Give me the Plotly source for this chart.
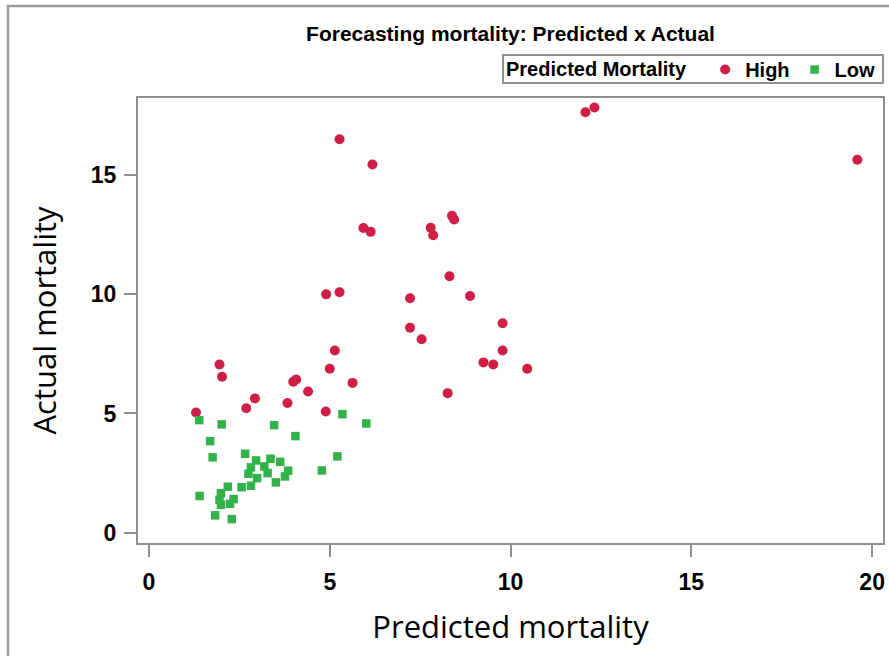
import plotly.graph_objects as go

# High predicted mortality group
high_pred = [1.30, 2.69, 2.93, 3.83, 4.89, 1.95, 2.02, 3.99, 4.07, 4.40, 5.00, 5.14, 5.63,
             4.90, 5.27, 5.27, 6.18, 12.07, 12.32, 5.93, 6.13, 7.79, 7.86, 8.38, 8.44,
             8.31, 7.22, 8.88, 9.78, 7.22, 7.54, 9.78, 9.25, 9.52, 10.46, 8.26, 19.59]
high_act = [5.04, 5.22, 5.63, 5.44, 5.08, 7.05, 6.54, 6.33, 6.42, 5.92, 6.87, 7.64, 6.28,
            9.99, 10.08, 16.49, 15.43, 17.62, 17.82, 12.77, 12.61, 12.78, 12.47, 13.28, 13.13,
            10.75, 9.83, 9.92, 8.78, 8.59, 8.11, 7.64, 7.14, 7.05, 6.87, 5.85, 15.63]

# Low predicted mortality group
low_pred = [1.39, 2.01, 3.46, 5.35, 6.01, 4.05, 1.69, 1.76, 2.66, 2.96, 3.36, 3.63, 2.82,
            3.19, 2.75, 3.28, 3.85, 3.76, 2.99, 2.82, 3.51, 5.21, 4.78, 2.18, 2.56, 1.99,
            1.95, 2.34, 1.99, 2.24, 1.40, 1.83, 2.29]
low_act = [4.72, 4.54, 4.51, 4.97, 4.58, 4.05, 3.84, 3.16, 3.31, 3.03, 3.10, 2.97, 2.74,
           2.78, 2.47, 2.50, 2.60, 2.36, 2.29, 1.97, 2.11, 3.20, 2.61, 1.93, 1.91, 1.66,
           1.38, 1.41, 1.17, 1.21, 1.54, 0.73, 0.57]

x_ticks = [0, 5, 10, 15, 20]
y_ticks = [0, 5, 10, 15]

RED = "#d01f47"
GREEN = "#33b24a"
GRAY = "#8f8f8f"
SANS = "Liberation Sans, Arial, sans-serif"
BOLD = dict(family=SANS, size=23, color="#000", weight="bold")
TITLE_FONT = dict(family="Open Sans, Noto Sans, sans-serif", size=31, color="#000")

# plot area in pixels: x 138..883, y 98..543
PW, PH = 745, 445


def px_x(p):
    return (p - 138) / PW


def px_y(p):
    return (543 - p) / PH


fig = go.Figure()
fig.add_trace(go.Scatter(x=high_pred, y=high_act, mode="markers", name="High",
                         marker=dict(symbol="circle", size=10, color=RED)))
fig.add_trace(go.Scatter(x=low_pred, y=low_act, mode="markers", name="Low",
                         marker=dict(symbol="square", size=8.5, color=GREEN)))

fig.update_layout(
    width=889, height=656,
    margin=dict(l=138, r=6, t=98, b=113, autoexpand=False),
    paper_bgcolor="white", plot_bgcolor="white",
    title=dict(text="Forecasting mortality: Predicted x Actual",
               font=dict(family=SANS, size=21, color="#000", weight="bold"),
               x=0.5, xref="paper", xanchor="center", y=1 - 34 / 656, yref="container", yanchor="middle"),
    showlegend=True,
    legend=dict(orientation="h", x=px_x(881), xanchor="right", y=px_y(50), yanchor="top",
                borderwidth=0, bgcolor="rgba(0,0,0,0)",
                title=dict(text="Predicted Mortality  ",
                           font=dict(family=SANS, size=20, color="#000", weight="bold")),
                font=dict(family=SANS, size=20, color="#000", weight="bold"),
                itemwidth=30, tracegroupgap=0),
    xaxis=dict(range=[-0.304, 20.30], tickvals=x_ticks, ticktext=[str(v) for v in x_ticks],
               showgrid=False, zeroline=False, showline=True, mirror=True,
               linecolor=GRAY, linewidth=2, ticks="outside", ticklen=12, tickwidth=2,
               tickcolor=GRAY, tickfont=BOLD, ticklabelstandoff=5,
               title=dict(text="Predicted mortality", font=TITLE_FONT, standoff=23)),
    yaxis=dict(range=[-0.43, 18.22], tickvals=y_ticks, ticktext=[str(v) for v in y_ticks],
               showgrid=False, zeroline=False, showline=True, mirror=True,
               linecolor=GRAY, linewidth=2, ticks="outside", ticklen=12, tickwidth=2,
               tickcolor=GRAY, tickfont=BOLD, ticklabelstandoff=3,
               title=dict(text="Actual mortality", font=TITLE_FONT, standoff=25)),
    shapes=[
        dict(type="rect", xref="paper", yref="paper",
             x0=px_x(8), x1=px_x(1000), y0=px_y(760), y1=px_y(6),
             line=dict(color="#9a9a9a", width=2.5), fillcolor="rgba(0,0,0,0)", layer="below"),
        dict(type="rect", xref="paper", yref="paper",
             x0=px_x(503), x1=px_x(883), y0=px_y(83), y1=px_y(55),
             line=dict(color=GRAY, width=2), fillcolor="white", layer="below"),
    ],
)

fig.write_html("out.html", config={"displayModeBar": False},
               post_script="document.body.style.margin='0';")
